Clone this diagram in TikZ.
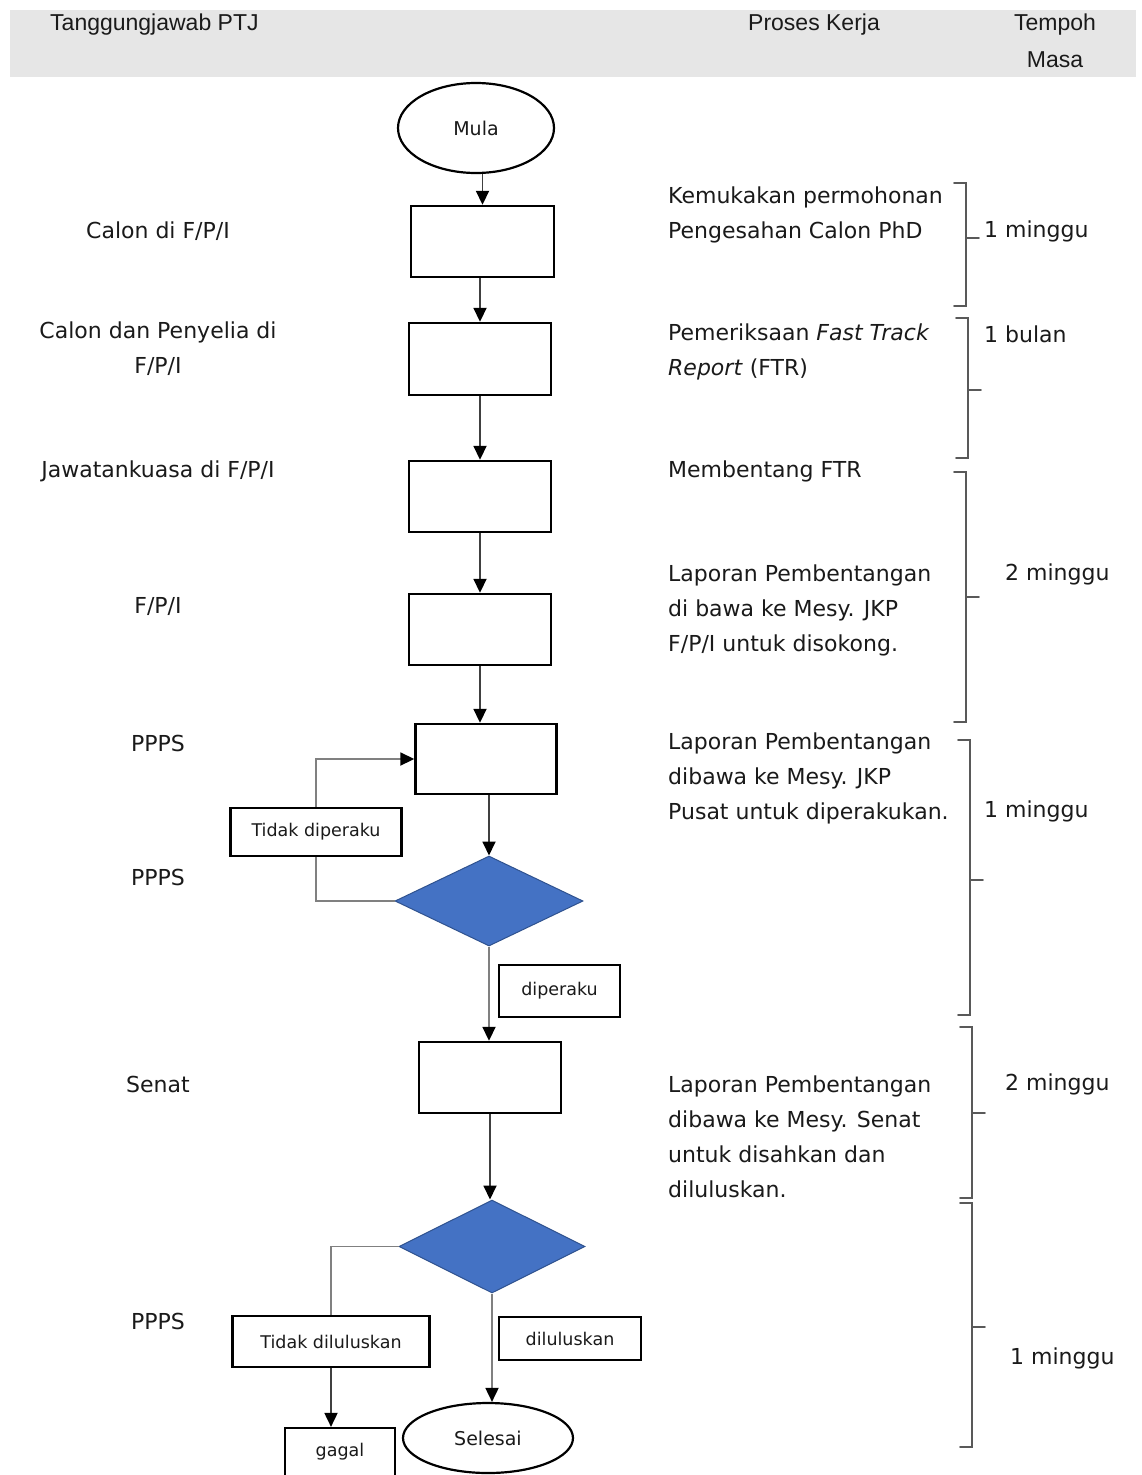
\documentclass[tikz,border=0pt]{standalone}
\usepackage{fontspec}
\setmainfont{DejaVu Sans}
\newfontfamily\hdrfont{Liberation Sans}
\usetikzlibrary{shapes.geometric,arrows.meta,calc}
\definecolor{dblue}{HTML}{4472C4}
\definecolor{dblueedge}{HTML}{2F528F}
\definecolor{hdrgray}{HTML}{E6E6E6}
\definecolor{txtc}{HTML}{1A1A1A}
\newcommand\mybrace[4]{%
  \draw[brc] (#1-12,#2) -- (#1,#2) -- (#1,#4) -- (#1-12,#4);
  \draw[brc] (#1,#3) -- (#1+13,#3);}
\begin{document}
\begin{tikzpicture}[x=1pt,y=-1pt,
  txt/.style={font=\fontsize{22}{35}\selectfont, inner sep=0pt, text=txtc},
  hdr/.style={font=\hdrfont\fontsize{23}{35}\selectfont, inner sep=0pt, text=txtc},
  stepbox/.style={draw=black, line width=2.4pt, fill=white, minimum width=142pt, minimum height=71pt, inner sep=0pt},
  lblbox/.style={draw=black, line width=2.2pt, fill=white, inner sep=0pt, font=\fontsize{17.5}{20}\selectfont, text=txtc},
  term/.style={draw=black, line width=2.2pt, fill=white, ellipse, inner sep=0pt, font=\fontsize{19}{22}\selectfont, text=txtc},
  decide/.style={diamond, fill=dblue, draw=dblueedge, line width=1pt, inner sep=0pt},
  arr/.style={draw=black!75, line width=1.8pt, -{Triangle[length=14pt,width=13pt,color=black]}},
  lnk/.style={draw=black!50, line width=1.8pt},
  brc/.style={draw=black!65, line width=1.6pt, line cap=round},
]
\useasboundingbox (0,0) rectangle (1141,1475);
\fill[white] (0,0) rectangle (1141,1475);
% header
\fill[hdrgray] (10,10) rectangle (1136,77);
\node[hdr, anchor=west] (h1) at (50,25) {Tanggungjawab PTJ};
\node[hdr] (h2) at (814,25) {Proses Kerja};
\node[hdr] (h3) at (1055,25) {Tempoh};
\node[hdr] (h4) at (1055,60) {Masa};

% flow nodes
\node[term, minimum width=156pt, minimum height=90pt] (mula) at (476,128) {Mula};
\node[stepbox, minimum width=143pt] (b1) at (482.5,241.5) {};
\node[stepbox, minimum height=72pt] (b2) at (480,359) {};
\node[stepbox] (b3) at (480,496.5) {};
\node[stepbox] (b4) at (480,629.5) {};
\node[stepbox, minimum width=141pt, minimum height=70pt] (b5) at (486,759) {};
\node[decide, minimum width=188pt, minimum height=90pt] (d1) at (489,901) {};
\node[lblbox, minimum width=171pt, minimum height=48pt] (tdp) at (316,832) {Tidak diperaku};
\node[lblbox, minimum width=121pt, minimum height=52pt] (dp) at (559.5,991) {diperaku};
\node[stepbox] (b6) at (490,1077.5) {};
\node[decide, minimum width=186pt, minimum height=93pt] (d2) at (492,1246.5) {};
\node[lblbox, minimum width=197pt, minimum height=51pt] (tdl) at (331,1341.5) {Tidak diluluskan};
\node[lblbox, minimum width=142pt, minimum height=43pt] (dl) at (570,1338.5) {diluluskan};
\node[lblbox, minimum width=110pt, minimum height=48pt] (gagal) at (340,1452) {gagal};
\node[term, minimum width=170pt, minimum height=70pt] (sel) at (488,1438) {Selesai};

% connectors
\draw[arr] (b1.north |- mula.south) -- (b1.north);
\draw[arr] (b2.north |- b1.south) -- (b2.north);
\draw[arr] (b2.south) -- (b3.north);
\draw[arr] (b3.south) -- (b4.north);
\draw[arr] (b4.south) -- (b4.south |- b5.north);
\draw[arr] (d1.north |- b5.south) -- (d1.north);
\draw[lnk] (d1.west) -| (tdp.south);
\draw[arr, draw=black!50] (tdp.north) |- (b5.west);
\draw[arr, draw=black!50] (d1.south) -- (d1.south |- b6.north);
\draw[arr] (b6.south) -- (b6.south |- d2.north);
\draw[lnk] (d2.west) -| (tdl.north);
\draw[arr] (tdl.south) -- (tdl.south |- gagal.north);
\draw[arr, draw=black!50] (d2.south) -- (d2.south |- sel.north);

% left column
\node[txt] (l1) at (158,231) {Calon di F/P/I};
\node[txt, align=center] (l2) at (158,349) {Calon dan Penyelia di\\F/P/I};
\node[txt] (l3) at (158,471) {Jawatankuasa di F/P/I};
\node[txt] (l4) at (158,606) {F/P/I};
\node[txt] (l5) at (158,743) {PPPS};
\node[txt] (l6) at (158,877) {PPPS};
\node[txt] (l7) at (158,1084) {Senat};
\node[txt] (l8) at (158,1321) {PPPS};

% middle column
\node[txt, align=left, anchor=north west] (m1) at (668,187) {Kemukakan permohonan\\Pengesahan Calon PhD};
\node[txt, align=left, anchor=north west] (m2) at (668,324) {Pemeriksaan \textit{Fast Track}\\\textit{Report} (FTR)};
\node[txt, anchor=west] (m3) at (668,471) {Membentang FTR};
\node[txt, align=left, anchor=north west] (m4) at (668,565) {Laporan Pembentangan\\di bawa ke Mesy. JKP\\F/P/I untuk disokong.};
\node[txt, align=left, anchor=north west] (m5) at (668,733) {Laporan Pembentangan\\dibawa ke Mesy. JKP\\Pusat untuk diperakukan.};
\node[txt, align=left, anchor=north west] (m6) at (668,1076) {Laporan Pembentangan\\dibawa ke Mesy. Senat\\untuk disahkan dan\\diluluskan.};

% braces
\mybrace{966}{183}{238}{306}
\mybrace{968}{318}{390}{458}
\mybrace{966}{472}{597}{722}
\mybrace{970}{740}{880}{1015}
\mybrace{972}{1027}{1113}{1198}
\mybrace{972}{1203}{1327}{1447}

\node[txt, anchor=west] (t1) at (984,231) {1 minggu};
\node[txt, anchor=west] (t2) at (984,334) {1 bulan};
\node[txt, anchor=west] (t3) at (1005,574) {2 minggu};
\node[txt, anchor=west] (t4) at (984,811) {1 minggu};
\node[txt, anchor=west] (t5) at (1005,1084) {2 minggu};
\node[txt, anchor=west] (t6) at (1010,1358) {1 minggu};
\end{tikzpicture}
\end{document}
